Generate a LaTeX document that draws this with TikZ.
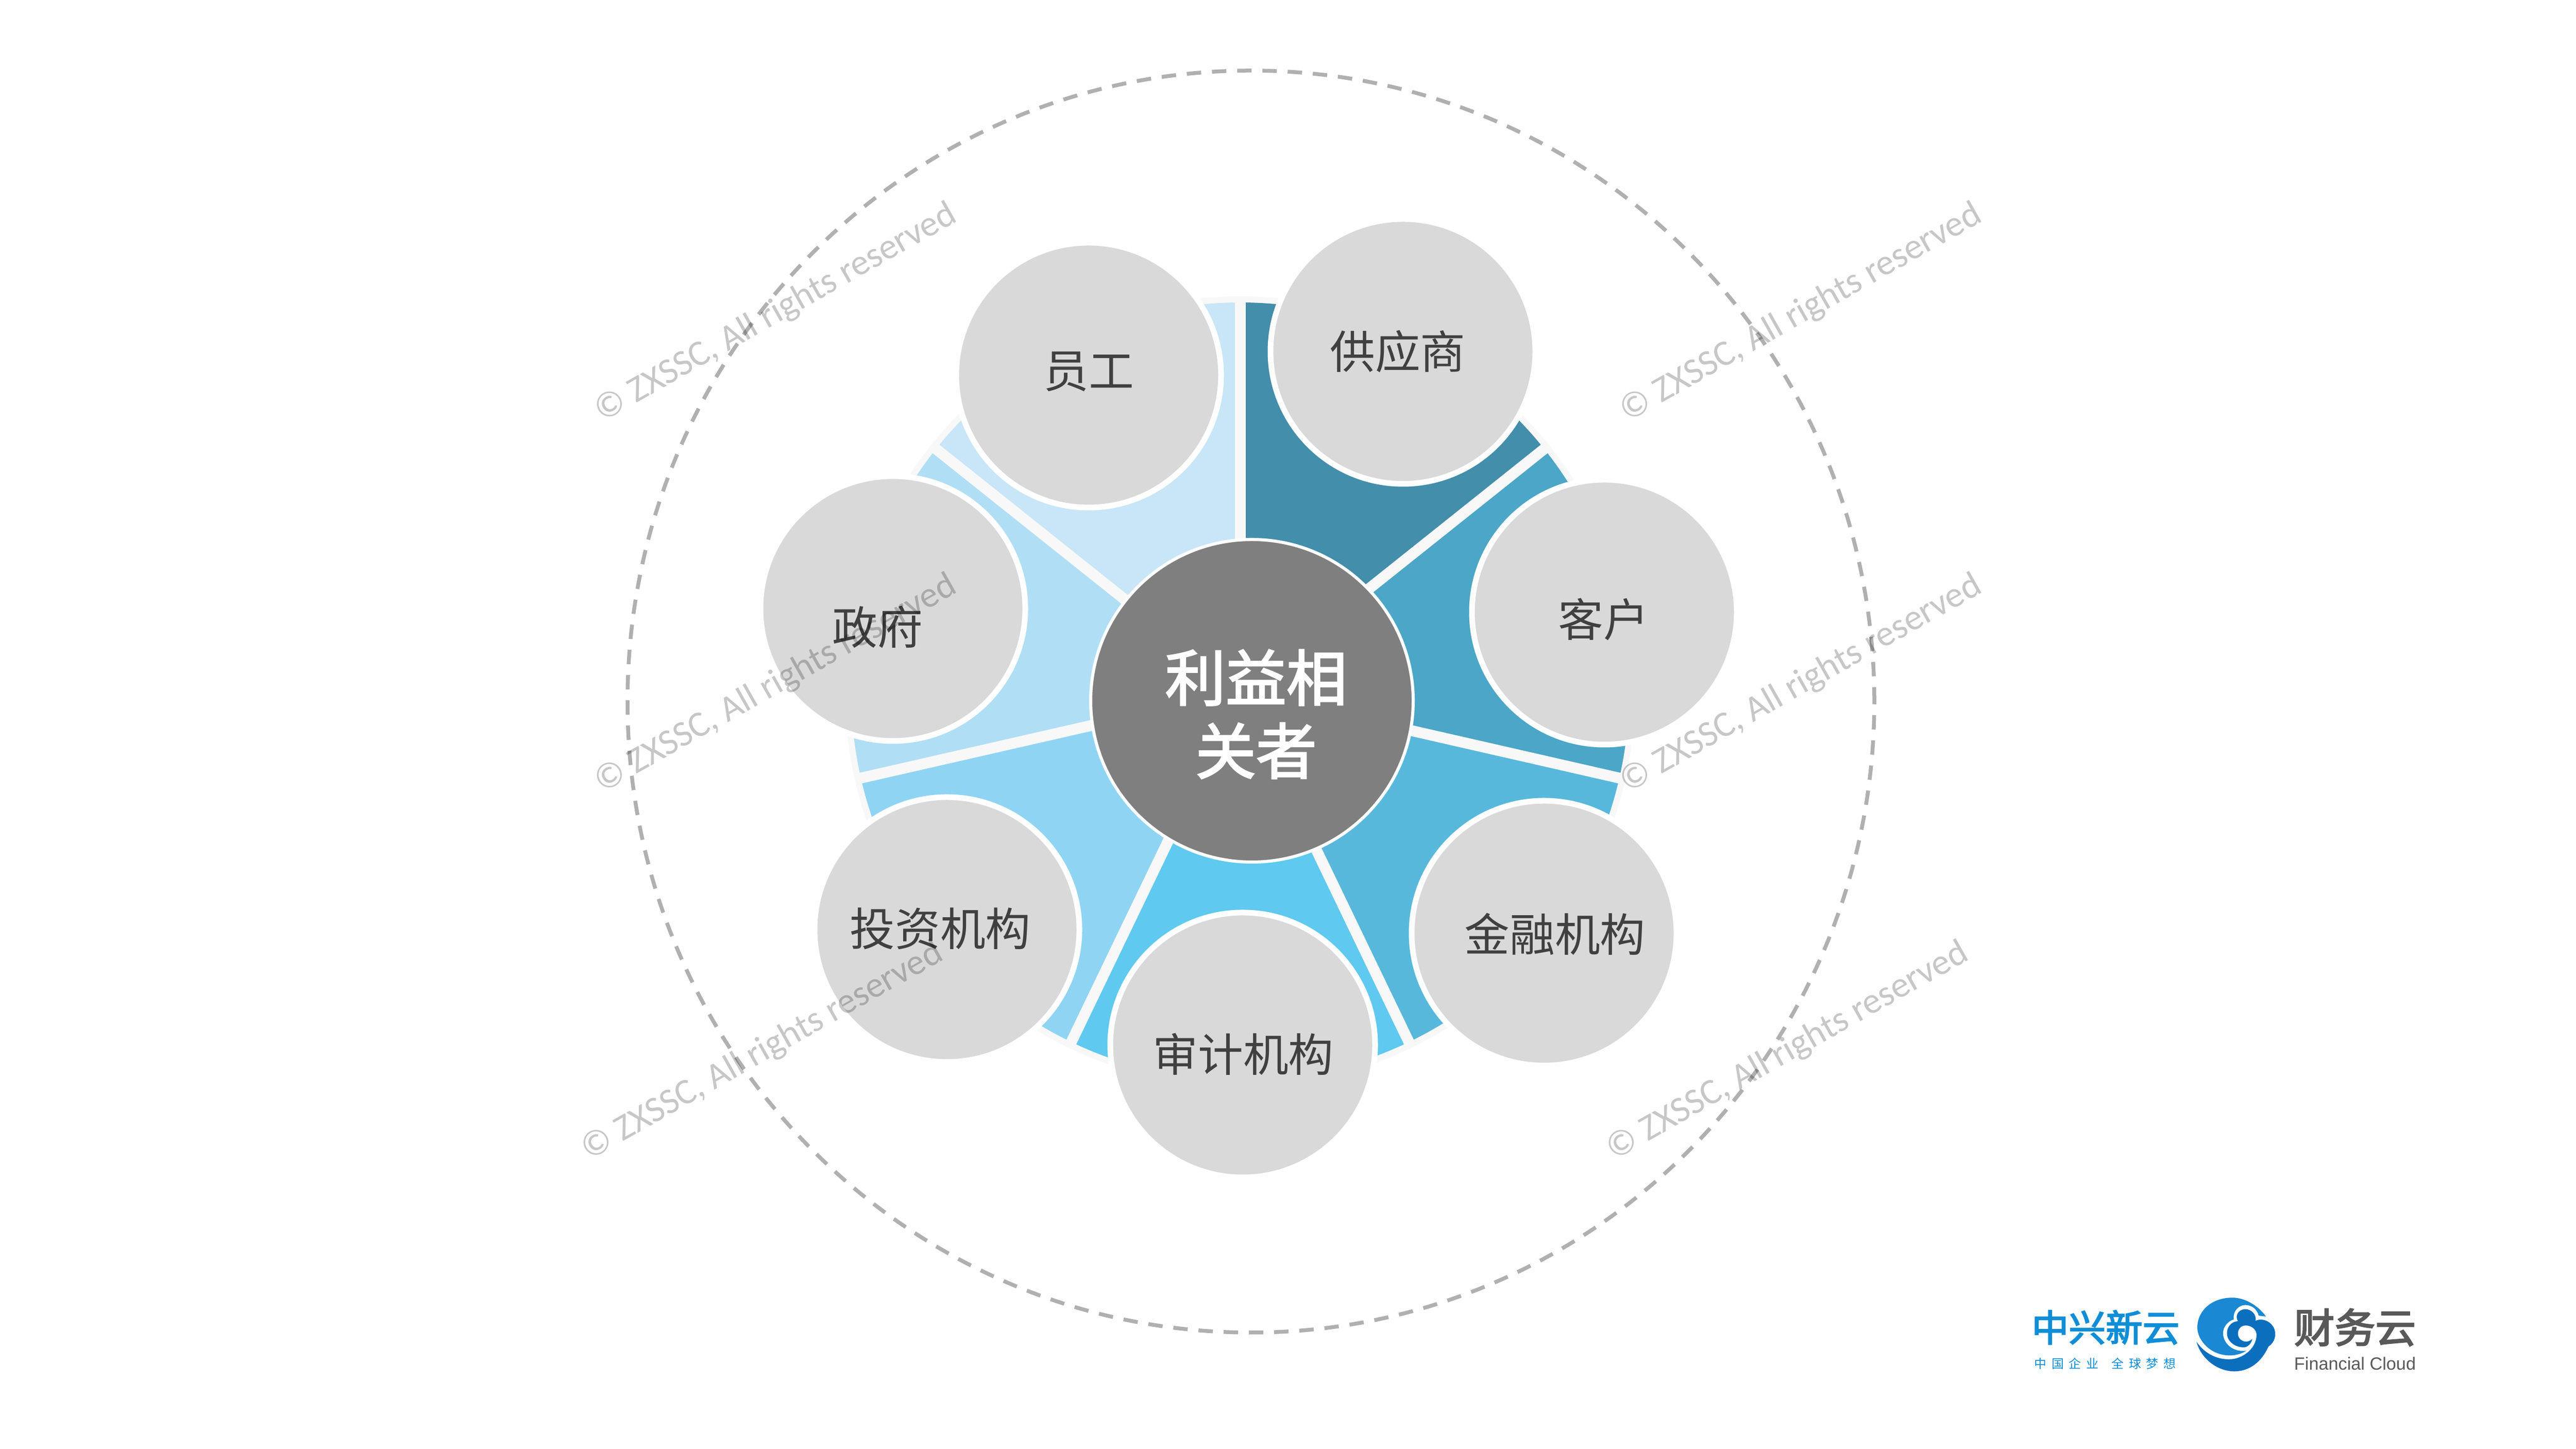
\documentclass[tikz,border=0pt]{standalone}
\usepackage{fontspec}
\usepackage{xcolor}
\setmainfont{Noto Sans CJK SC}
\newfontfamily\markfont{Carlito}
\newfontfamily\cloudfont{Liberation Sans}
\newfontfamily\spacedfont[LetterSpace=40]{Noto Sans CJK SC}
\newfontfamily\hubfont[FakeBold=2.5]{Noto Sans CJK SC}
\newfontfamily\logofont[FakeBold=3]{Noto Sans CJK SC}
\definecolor{rim}{HTML}{F8F8F8}
\definecolor{bubble}{HTML}{D9D9D9}
\definecolor{hubgray}{HTML}{7F7F7F}
\definecolor{ink}{HTML}{404040}
\definecolor{ring}{HTML}{B0B0B0}
\definecolor{secA}{HTML}{438EAB}
\definecolor{secB}{HTML}{4CA6C7}
\definecolor{secC}{HTML}{58B8DC}
\definecolor{secD}{HTML}{5FC9F0}
\definecolor{secE}{HTML}{90D4F4}
\definecolor{secF}{HTML}{B0DFF5}
\definecolor{secG}{HTML}{C8E6F7}
\definecolor{logoblue}{HTML}{1A88D2}
\definecolor{logodark}{HTML}{0B6FBE}
\definecolor{logotext}{HTML}{0F8ED6}
\definecolor{logogray}{HTML}{595959}
\tikzset{
    bubblenode/.style = {circle, draw = white, line width = 0.11cm, fill = bubble, minimum size = 5.14cm, inner sep = 0pt, outer sep = 0pt},
    bubbletext/.style = {text = ink, inner sep = 0pt, font = \fontsize{25}{29}\selectfont},
    watermark/.style = {text = black, text opacity = 0.22, rotate = 29.5, inner sep = 0pt, font = \markfont\fontsize{20}{24}\selectfont},
}

\begin{document}
\begin{tikzpicture}
    % Parameters
    \pgfmathsetmacro{\rout}{7.55}
    \pgfmathsetmacro{\sect}{360/7}
    \useasboundingbox (0,0) rectangle (50,28.12);
    \coordinate (hub) at (24.07,14.70);
    % Outer ring
    \draw[ring, line width = 0.075cm, dash pattern = on 0.28cm off 0.21cm] (24.28,14.505) ellipse (12.10 and 12.245);
    % Sectors
    \fill[rim] (hub) circle (\rout + 0.12);
    \foreach \col [count = \n from 0] in {secA,secB,secC,secD,secE,secF,secG}{
        \fill[\col] (hub) -- ++({90-\n*\sect}:\rout) arc ({90-\n*\sect}:{90-(\n+1)*\sect}:\rout) -- cycle;
    }
    \foreach \n in {0,...,6}{
        \draw[rim, line width = 0.21cm] (hub) -- ++({90-\n*\sect}:{\rout+0.12});
    }
    % Bubbles
    \foreach \id/\cx/\cy in {staff/21.13/20.84, supplier/27.23/21.30, client/31.14/16.24, bank/29.97/10.01, audit/24.12/7.84, investor/18.38/10.08, state/17.33/16.31}{
        \node[bubblenode] (\id) at (\cx,\cy) {};
    }
    % Bubble labels
    \node[bubbletext] (stafftext) at (21.13,20.91) {员工};
    \node[bubbletext] (suppliertext) at (27.13,21.30) {供应商};
    \node[bubbletext] (clienttext) at (31.12,16.10) {客户};
    \node[bubbletext] (banktext) at (30.18,9.99) {金融机构};
    \node[bubbletext] (audittext) at (24.13,7.66) {审计机构};
    \node[bubbletext] (investortext) at (18.25,10.10) {投资机构};
    \node[bubbletext] (statetext) at (17.03,15.95) {政府};
    % Centre
    \node[circle, draw = white, line width = 0.06cm, fill = hubgray, minimum size = 6.26cm, inner sep = 0pt, outer sep = 0pt] (centre) at (24.30,14.52) {};
    \node[text = white, align = center, inner sep = 0pt, font = \hubfont\fontsize{33.5}{40.4}\selectfont] (centretext) at (24.38,14.26) {利益相\\关者};
    % Watermarks
    \foreach \id/\wx/\wy in {a/15.06/22.04, b/34.96/22.04, c/15.06/14.84, d/34.96/14.84, e/14.80/7.71, f/34.70/7.71}{
        \node[watermark] (mark\id) at (\wx,\wy) {© ZXSSC, All rights reserved};
    }
    % Logo
    \begin{scope}[shift = {(42.5,3.12)}, x = 0.003333cm, y = -0.003333cm]
        \fill[logoblue] (445,165) .. controls (400,100) and (320,55) .. (250,55)
            .. controls (130,55) and (45,130) .. (45,230)
            .. controls (45,300) and (120,395) .. (240,392)
            .. controls (270,392) and (310,380) .. (330,365)
            .. controls (250,375) and (195,320) .. (195,262)
            .. controls (195,225) and (225,190) .. (258,182)
            .. controls (250,130) and (290,98) .. (325,98)
            .. controls (365,98) and (395,125) .. (403,160) -- cycle;
        \fill[logodark] (40,312) .. controls (70,420) and (170,485) .. (260,485)
            .. controls (350,485) and (420,430) .. (460,340)
            .. controls (500,315) and (505,270) .. (495,240)
            .. controls (480,195) and (425,170) .. (385,190)
            .. controls (392,150) and (355,120) .. (322,122)
            .. controls (285,125) and (262,160) .. (282,192)
            .. controls (240,195) and (215,230) .. (218,270)
            .. controls (225,320) and (275,347) .. (320,345)
            .. controls (345,340) and (360,320) .. (366,296)
            .. controls (345,315) and (320,315) .. (305,305)
            .. controls (278,290) and (272,250) .. (300,225)
            .. controls (330,205) and (385,225) .. (390,265)
            .. controls (395,330) and (340,395) .. (260,412)
            .. controls (170,425) and (90,385) .. (40,312) -- cycle;
    \end{scope}
    \node[text = logotext, inner sep = 0pt, font = \logofont\fontsize{20.4}{24}\selectfont] (logoname) at (40.87,2.36) {中兴新云};
    \node[text = logotext, inner sep = 0pt, font = \spacedfont\fontsize{6.8}{8}\selectfont] (logomottoa) at (40.11,1.66) {中国企业};
    \node[text = logotext, inner sep = 0pt, font = \spacedfont\fontsize{6.8}{8}\selectfont] (logomottob) at (41.61,1.66) {全球梦想};
    \node[text = logogray, inner sep = 0pt, font = \logofont\fontsize{22.4}{26}\selectfont] (logocloud) at (45.71,2.36) {财务云};
    \node[text = logogray, inner sep = 0pt, font = \cloudfont\fontsize{9.75}{12}\selectfont] (logoen) at (45.71,1.66) {Financial Cloud};
\end{tikzpicture}
\end{document}
